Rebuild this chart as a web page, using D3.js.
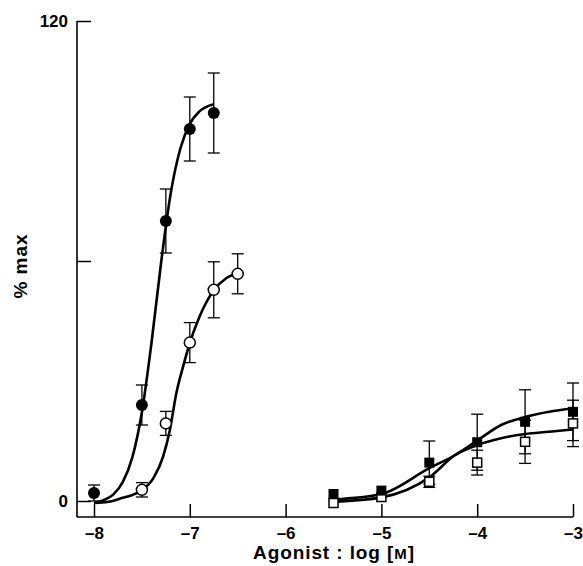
<!DOCTYPE html>
<html lang="en">

<head>
    <meta charset="utf-8">
    <style>
        body { margin: 0; background: #fff; }
        text { font-family: "Liberation Sans", Arial, sans-serif; font-weight: bold; fill: #000; }
    </style>
</head>

<body>
    <script type='text/javascript' src='https://d3js.org/d3.v7.min.js'></script>
    <script>
        var width = 583, height = 566;

        // y axis ticks, x axis ticks
        var yTicks = [0, 60, 120];
        var xTicks = [-8, -7, -6, -5, -4, -3];

        // circles (first agonist pair)
        var filledCircleX = [-8, -7.5, -7.25, -7, -6.75];
        var filledCircleY = [2, 24, 70, 93, 97];
        var filledCircleErr = [2, 5, 8, 8, 10];

        var openCircleX = [-7.5, -7.25, -7, -6.75, -6.5];
        var openCircleY = [2.8, 19.4, 39.6, 52.8, 56.8];
        var openCircleErr = [1.8, 3, 5, 7, 5];

        // squares (second agonist pair)
        var squareX = [-5.5, -5, -4.5, -4, -3.5, -3];
        var filledSquareY = [1.75, 2.6, 9.6, 14.7, 19.8, 22.3];
        var filledSquareErr = [0, 0, 5.4, 7, 8, 7.2];
        var openSquareY = [-0.5, 1, 4.8, 9.6, 14.8, 19.4];
        var openSquareErr = [0, 0, 1.4, 3.1, 5.4, 5.8];

        // fitted curves
        var filledCircleFitX = [-8, -7.9, -7.8, -7.7, -7.6, -7.5, -7.4, -7.3, -7.2, -7.1, -7, -6.9, -6.75];
        var filledCircleFitY = [-0.5, 0.2, 1.6, 4.7, 10.9, 22.2, 39.5, 59.5, 76.8, 88, 94.3, 97.4, 99.2];

        var openCircleFitX = [-8, -7.85, -7.7, -7.6, -7.5, -7.38, -7.28, -7.21, -7.14, -7.07, -7, -6.9, -6.75, -6.62, -6.5];
        var openCircleFitY = [-0.5, -0.2, 0.8, 1.5, 2.7, 5.7, 11, 17.5, 27, 33.6, 39.5, 46, 52.7, 55.7, 57];

        var filledSquareFitX = [-5.5, -5, -4.5, -4.23, -4, -3.75, -3.5, -3.25, -3];
        var filledSquareFitY = [0.4, 1.75, 8.2, 11.5, 15.1, 19, 21, 22.3, 23.2];

        var openSquareFitX = [-5.5, -5, -4.5, -4.23, -4, -3.75, -3.5, -3.25, -3];
        var openSquareFitY = [-0.2, 0.9, 5.9, 11.5, 14, 15.7, 16.75, 17.3, 17.9];

        var svg = d3.select('body').append('svg').attr('width', width).attr('height', height);

        var x = d3.scaleLinear().domain([-8, -3]).range([94, 573]);
        var y = d3.scaleLinear().domain([0, 120]).range([501, 21]);

        var axisX0 = 77, axisY0 = 517;

        // axes
        svg.append('line')
            .attr('x1', axisX0).attr('x2', axisX0)
            .attr('y1', y(120)).attr('y2', axisY0)
            .attr('stroke', '#000').attr('stroke-width', 1.6);
        svg.append('line')
            .attr('x1', axisX0).attr('x2', x(-3))
            .attr('y1', axisY0).attr('y2', axisY0)
            .attr('stroke', '#000').attr('stroke-width', 1.6);

        var yAxis = svg.append('g')
            .attr('transform', 'translate(' + axisX0 + ',0)')
            .call(d3.axisLeft(y).tickValues(yTicks).tickSize(-14).tickPadding(9)
                .tickFormat(function (d) { return d === 60 ? '' : d; }));
        yAxis.select('.domain').remove();

        var xAxis = svg.append('g')
            .attr('transform', 'translate(0,' + axisY0 + ')')
            .call(d3.axisBottom(x).tickValues(xTicks).tickSize(-13).tickPadding(10)
                .tickFormat(function (d) { return '\u2013' + Math.abs(d); }));
        xAxis.select('.domain').remove();

        svg.selectAll('.tick line').attr('stroke', '#000').attr('stroke-width', 1.5);
        svg.selectAll('.tick text').style('font-size', '17px').attr('fill', '#000');

        // axis titles
        svg.append('text')
            .attr('transform', 'translate(27,266) rotate(-90)')
            .attr('text-anchor', 'middle')
            .style('font-size', '19px')
            .style('letter-spacing', '1px')
            .text('% max');

        var xt = svg.append('text')
            .attr('x', 334).attr('y', 559)
            .attr('text-anchor', 'middle')
            .style('font-size', '19px')
            .style('letter-spacing', '0.9px');
        xt.append('tspan').text('Agonist : log [');
        xt.append('tspan').style('font-size', '15px').text('M');
        xt.append('tspan').text(']');

        // fitted curves
        var line = d3.line()
            .x(function (d) { return x(d[0]); })
            .y(function (d) { return y(d[1]); })
            .curve(d3.curveMonotoneX);

        [[filledCircleFitX, filledCircleFitY], [openCircleFitX, openCircleFitY],
         [filledSquareFitX, filledSquareFitY], [openSquareFitX, openSquareFitY]].forEach(function (c) {
            svg.append('path')
                .datum(d3.zip(c[0], c[1]))
                .attr('d', line)
                .attr('fill', 'none')
                .attr('stroke', '#000')
                .attr('stroke-width', 2.6);
        });

        // error bars
        function errorBars(xs, ys, es) {
            var g = svg.append('g').attr('stroke', '#000').attr('stroke-width', 1.3);
            var data = d3.zip(xs, ys, es).filter(function (d) { return d[2] > 0; });
            g.selectAll('line.v').data(data).join('line')
                .attr('x1', function (d) { return x(d[0]); })
                .attr('x2', function (d) { return x(d[0]); })
                .attr('y1', function (d) { return y(d[1] - d[2]); })
                .attr('y2', function (d) { return y(d[1] + d[2]); });
            g.selectAll('line.t').data(data).join('line')
                .attr('x1', function (d) { return x(d[0]) - 6; })
                .attr('x2', function (d) { return x(d[0]) + 6; })
                .attr('y1', function (d) { return y(d[1] + d[2]); })
                .attr('y2', function (d) { return y(d[1] + d[2]); });
            g.selectAll('line.b').data(data).join('line')
                .attr('x1', function (d) { return x(d[0]) - 6; })
                .attr('x2', function (d) { return x(d[0]) + 6; })
                .attr('y1', function (d) { return y(d[1] - d[2]); })
                .attr('y2', function (d) { return y(d[1] - d[2]); });
        }
        errorBars(filledCircleX, filledCircleY, filledCircleErr);
        errorBars(openCircleX, openCircleY, openCircleErr);
        errorBars(squareX, filledSquareY, filledSquareErr);
        errorBars(squareX, openSquareY, openSquareErr);

        // markers
        svg.append('g').selectAll('circle')
            .data(d3.zip(filledCircleX, filledCircleY))
            .join('circle')
            .attr('cx', function (d) { return x(d[0]); })
            .attr('cy', function (d) { return y(d[1]); })
            .attr('r', 6)
            .attr('fill', '#000');

        svg.append('g').selectAll('circle')
            .data(d3.zip(openCircleX, openCircleY))
            .join('circle')
            .attr('cx', function (d) { return x(d[0]); })
            .attr('cy', function (d) { return y(d[1]); })
            .attr('r', 5.5)
            .attr('fill', '#fff')
            .attr('stroke', '#000')
            .attr('stroke-width', 1.5);

        svg.append('g').selectAll('rect')
            .data(d3.zip(squareX, openSquareY))
            .join('rect')
            .attr('x', function (d) { return x(d[0]) - 4.5; })
            .attr('y', function (d) { return y(d[1]) - 4.5; })
            .attr('width', 9).attr('height', 9)
            .attr('fill', '#fff')
            .attr('stroke', '#000')
            .attr('stroke-width', 1.5);

        svg.append('g').selectAll('rect')
            .data(d3.zip(squareX, filledSquareY))
            .join('rect')
            .attr('x', function (d) { return x(d[0]) - 5; })
            .attr('y', function (d) { return y(d[1]) - 5; })
            .attr('width', 10).attr('height', 10)
            .attr('fill', '#000');
    </script>
</body>

</html>
